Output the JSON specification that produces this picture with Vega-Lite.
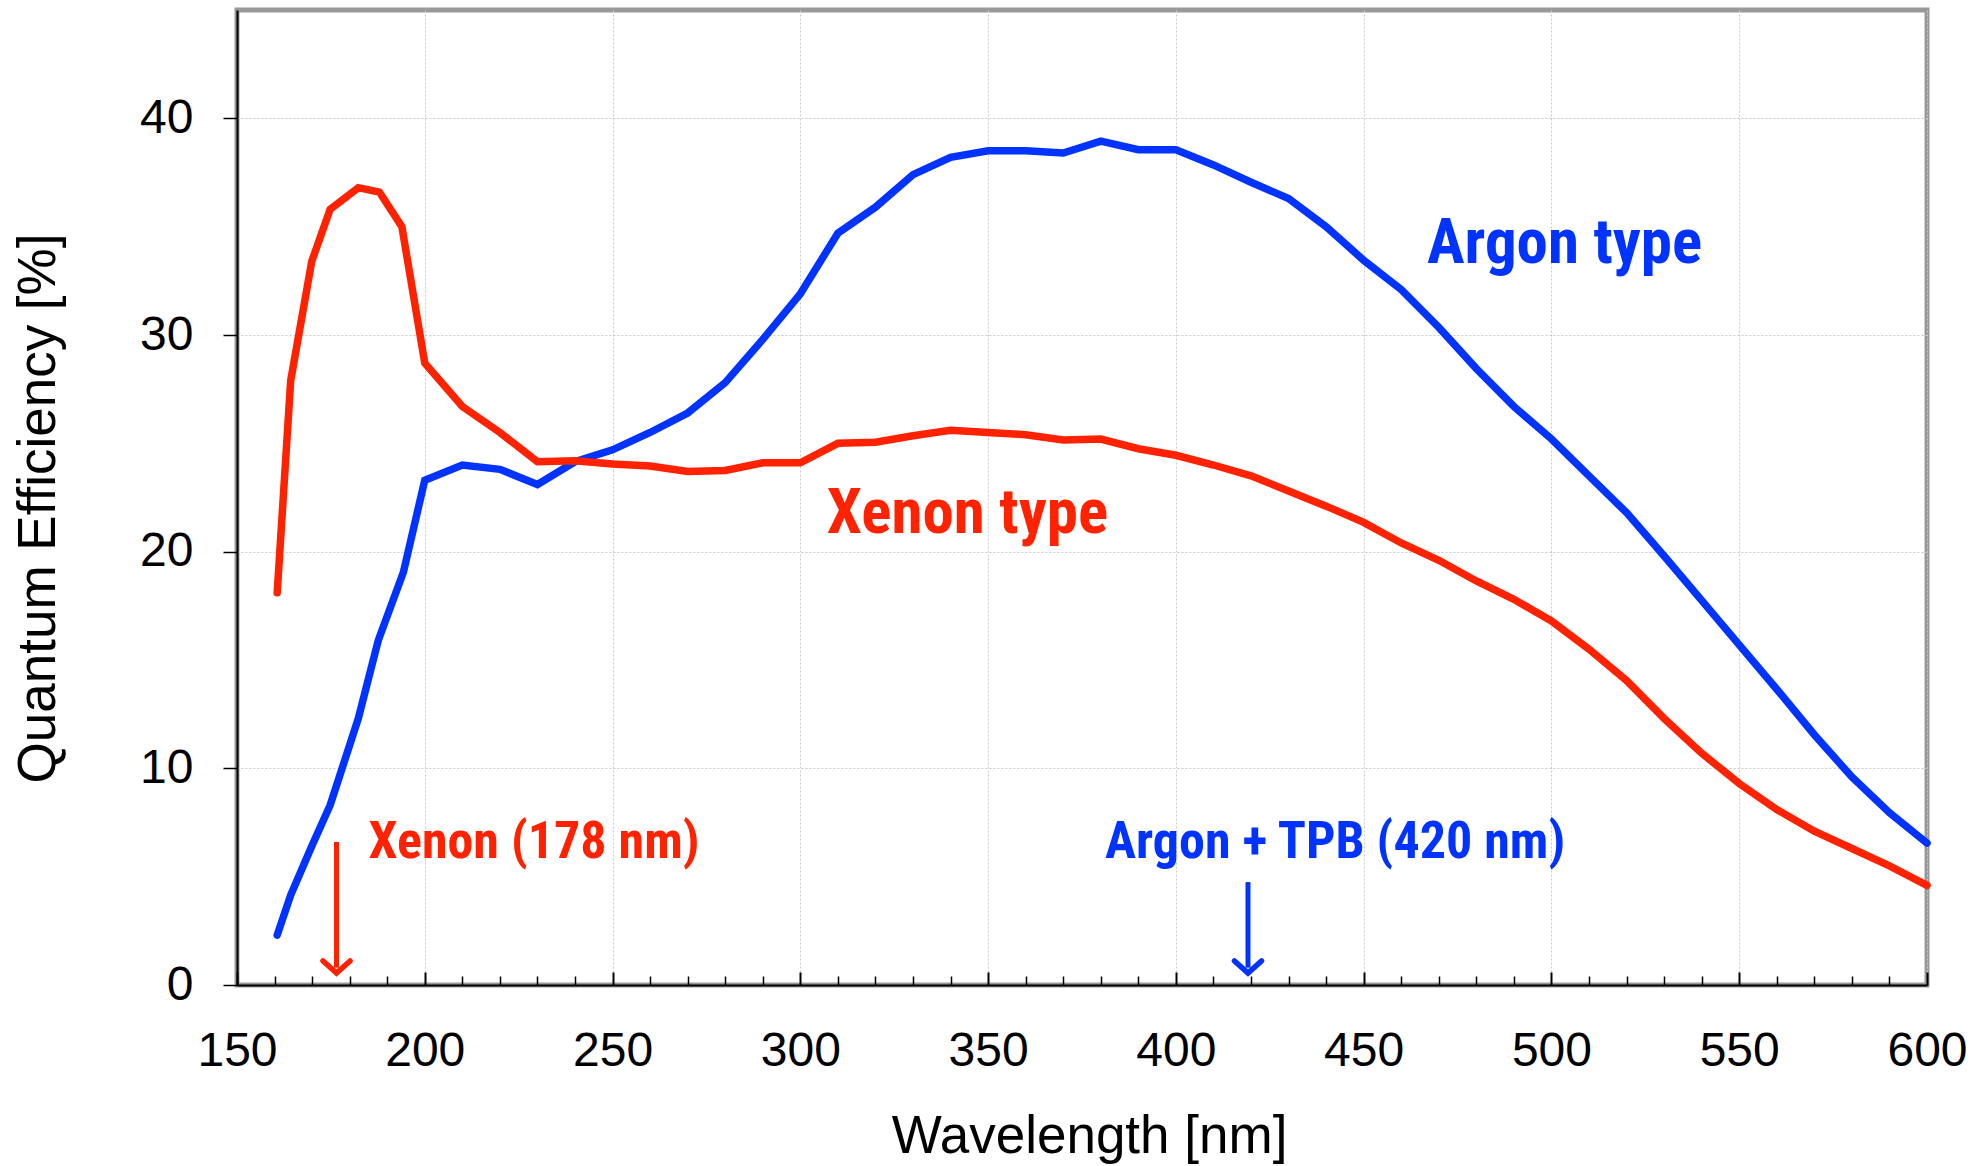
{
  "$schema": "https://vega.github.io/schema/vega-lite/v6.json",
  "width": 1690,
  "height": 975,
  "autosize": {"type": "none"},
  "padding": {"left": 237, "top": 10, "right": 48, "bottom": 181},
  "background": "white",
  "config": {
    "view": {"stroke": "#999999", "strokeWidth": 5},
    "font": "Liberation Sans"
  },
  "datasets": {
    "qe": [
      {"nm": 160.7, "qe": 2.3, "s": "Argon"},
      {"nm": 164.3, "qe": 4.15, "s": "Argon"},
      {"nm": 169.9, "qe": 6.4, "s": "Argon"},
      {"nm": 174.8, "qe": 8.3, "s": "Argon"},
      {"nm": 182.3, "qe": 12.3, "s": "Argon"},
      {"nm": 187.6, "qe": 15.9, "s": "Argon"},
      {"nm": 194.3, "qe": 19.05, "s": "Argon"},
      {"nm": 200, "qe": 23.3, "s": "Argon"},
      {"nm": 210, "qe": 24.0, "s": "Argon"},
      {"nm": 220, "qe": 23.8, "s": "Argon"},
      {"nm": 230, "qe": 23.1, "s": "Argon"},
      {"nm": 240, "qe": 24.15, "s": "Argon"},
      {"nm": 250, "qe": 24.7, "s": "Argon"},
      {"nm": 260, "qe": 25.5, "s": "Argon"},
      {"nm": 270, "qe": 26.4, "s": "Argon"},
      {"nm": 280, "qe": 27.8, "s": "Argon"},
      {"nm": 290, "qe": 29.8, "s": "Argon"},
      {"nm": 300, "qe": 31.9, "s": "Argon"},
      {"nm": 310, "qe": 34.7, "s": "Argon"},
      {"nm": 320, "qe": 35.9, "s": "Argon"},
      {"nm": 330, "qe": 37.4, "s": "Argon"},
      {"nm": 340, "qe": 38.2, "s": "Argon"},
      {"nm": 350, "qe": 38.5, "s": "Argon"},
      {"nm": 360, "qe": 38.5, "s": "Argon"},
      {"nm": 370, "qe": 38.4, "s": "Argon"},
      {"nm": 380, "qe": 38.95, "s": "Argon"},
      {"nm": 390, "qe": 38.55, "s": "Argon"},
      {"nm": 400, "qe": 38.55, "s": "Argon"},
      {"nm": 410, "qe": 37.85, "s": "Argon"},
      {"nm": 420, "qe": 37.05, "s": "Argon"},
      {"nm": 430, "qe": 36.3, "s": "Argon"},
      {"nm": 440, "qe": 35.0, "s": "Argon"},
      {"nm": 450, "qe": 33.45, "s": "Argon"},
      {"nm": 460, "qe": 32.1, "s": "Argon"},
      {"nm": 470, "qe": 30.35, "s": "Argon"},
      {"nm": 480, "qe": 28.45, "s": "Argon"},
      {"nm": 490, "qe": 26.7, "s": "Argon"},
      {"nm": 500, "qe": 25.2, "s": "Argon"},
      {"nm": 510, "qe": 23.5, "s": "Argon"},
      {"nm": 520, "qe": 21.8, "s": "Argon"},
      {"nm": 530, "qe": 19.8, "s": "Argon"},
      {"nm": 540, "qe": 17.75, "s": "Argon"},
      {"nm": 550, "qe": 15.7, "s": "Argon"},
      {"nm": 560, "qe": 13.65, "s": "Argon"},
      {"nm": 570, "qe": 11.55, "s": "Argon"},
      {"nm": 580, "qe": 9.6, "s": "Argon"},
      {"nm": 590, "qe": 7.95, "s": "Argon"},
      {"nm": 600, "qe": 6.55, "s": "Argon"},
      {"nm": 160.7, "qe": 18.1, "s": "Xenon"},
      {"nm": 164.3, "qe": 27.9, "s": "Xenon"},
      {"nm": 169.9, "qe": 33.4, "s": "Xenon"},
      {"nm": 174.8, "qe": 35.8, "s": "Xenon"},
      {"nm": 182.3, "qe": 36.8, "s": "Xenon"},
      {"nm": 187.9, "qe": 36.6, "s": "Xenon"},
      {"nm": 193.9, "qe": 35.0, "s": "Xenon"},
      {"nm": 200, "qe": 28.7, "s": "Xenon"},
      {"nm": 210, "qe": 26.7, "s": "Xenon"},
      {"nm": 220, "qe": 25.5, "s": "Xenon"},
      {"nm": 230, "qe": 24.15, "s": "Xenon"},
      {"nm": 240, "qe": 24.2, "s": "Xenon"},
      {"nm": 250, "qe": 24.05, "s": "Xenon"},
      {"nm": 260, "qe": 23.95, "s": "Xenon"},
      {"nm": 270, "qe": 23.7, "s": "Xenon"},
      {"nm": 280, "qe": 23.75, "s": "Xenon"},
      {"nm": 290, "qe": 24.1, "s": "Xenon"},
      {"nm": 300, "qe": 24.1, "s": "Xenon"},
      {"nm": 310, "qe": 25.0, "s": "Xenon"},
      {"nm": 320, "qe": 25.05, "s": "Xenon"},
      {"nm": 330, "qe": 25.35, "s": "Xenon"},
      {"nm": 340, "qe": 25.6, "s": "Xenon"},
      {"nm": 350, "qe": 25.5, "s": "Xenon"},
      {"nm": 360, "qe": 25.4, "s": "Xenon"},
      {"nm": 370, "qe": 25.15, "s": "Xenon"},
      {"nm": 380, "qe": 25.2, "s": "Xenon"},
      {"nm": 390, "qe": 24.75, "s": "Xenon"},
      {"nm": 400, "qe": 24.45, "s": "Xenon"},
      {"nm": 410, "qe": 24.0, "s": "Xenon"},
      {"nm": 420, "qe": 23.5, "s": "Xenon"},
      {"nm": 430, "qe": 22.8, "s": "Xenon"},
      {"nm": 440, "qe": 22.1, "s": "Xenon"},
      {"nm": 450, "qe": 21.35, "s": "Xenon"},
      {"nm": 460, "qe": 20.4, "s": "Xenon"},
      {"nm": 470, "qe": 19.6, "s": "Xenon"},
      {"nm": 480, "qe": 18.65, "s": "Xenon"},
      {"nm": 490, "qe": 17.8, "s": "Xenon"},
      {"nm": 500, "qe": 16.8, "s": "Xenon"},
      {"nm": 510, "qe": 15.5, "s": "Xenon"},
      {"nm": 520, "qe": 14.05, "s": "Xenon"},
      {"nm": 530, "qe": 12.3, "s": "Xenon"},
      {"nm": 540, "qe": 10.7, "s": "Xenon"},
      {"nm": 550, "qe": 9.3, "s": "Xenon"},
      {"nm": 560, "qe": 8.1, "s": "Xenon"},
      {"nm": 570, "qe": 7.1, "s": "Xenon"},
      {"nm": 580, "qe": 6.3, "s": "Xenon"},
      {"nm": 590, "qe": 5.5, "s": "Xenon"},
      {"nm": 600, "qe": 4.6, "s": "Xenon"}
    ],
    "arrows": [
      {"nm": 176.5, "qe": 6.6, "qe2": 0.8, "s": "Xenon"},
      {"nm": 419.2, "qe": 4.75, "qe2": 0.8, "s": "Argon"}
    ],
    "heads": [
      {"nm": 176.5, "qe": 0.55, "s": "Xenon"},
      {"nm": 419.2, "qe": 0.55, "s": "Argon"}
    ],
    "types": [
      {"nm": 503.5, "qe": 34.2, "label": "Argon type", "s": "Argon"},
      {"nm": 344.5, "qe": 21.75, "label": "Xenon type", "s": "Xenon"}
    ],
    "marks": [
      {"nm": 229.1, "qe": 6.6, "label": "Xenon (178 nm)", "s": "Xenon"},
      {"nm": 442.4, "qe": 6.6, "label": "Argon + TPB (420 nm)", "s": "Argon"}
    ]
  },
  "resolve": {"axis": {"x": "independent"}},
  "layer": [
    {
      "data": {"name": "qe"},
      "mark": {"type": "line", "strokeWidth": 7.5, "strokeCap": "round"},
      "encoding": {
        "x": {
          "field": "nm", "type": "quantitative",
          "scale": {"domain": [150, 600], "nice": false, "zero": false},
          "axis": {
            "orient": "bottom",
            "values": [150, 200, 250, 300, 350, 400, 450, 500, 550, 600],
            "format": "d",
            "grid": true, "gridColor": "#c8c8c8", "gridDash": [2, 2], "gridWidth": 1,
            "domain": true, "domainColor": "#000000", "domainWidth": 2,
            "ticks": true, "tickSize": -13, "tickColor": "#000000", "tickWidth": 2,
            "labelFont": "Liberation Sans", "labelFontSize": 48, "labelColor": "#000000",
            "labelPadding": 55, "labelFlush": false, "labelOverlap": false,
            "title": "Wavelength [nm]",
            "titleFont": "Liberation Sans", "titleFontSize": 53, "titleFontWeight": "normal",
            "titleColor": "#000000",
            "titleX": 852, "titleY": 167, "titleBaseline": "alphabetic", "titleAlign": "center"
          }
        },
        "y": {
          "field": "qe", "type": "quantitative",
          "scale": {"domain": [0, 45], "nice": false},
          "axis": {
            "values": [0, 10, 20, 30, 40],
            "grid": true, "gridColor": "#c8c8c8", "gridDash": [2, 2], "gridWidth": 1,
            "domain": true, "domainColor": "#000000", "domainWidth": 2,
            "ticks": true, "tickSize": 14, "tickColor": "#000000", "tickWidth": 1.5,
            "labelFont": "Liberation Sans", "labelFontSize": 48, "labelColor": "#000000",
            "labelPadding": 30, "labelFlush": false,
            "title": "Quantum Efficiency [%]",
            "titleFont": "Liberation Sans", "titleFontSize": 53, "titleFontWeight": "normal",
            "titleColor": "#000000",
            "titleAngle": -90, "titleX": -199, "titleY": 498,
            "titleBaseline": "middle", "titleAlign": "center"
          }
        },
        "color": {
          "field": "s", "type": "nominal",
          "scale": {"domain": ["Argon", "Xenon"], "range": ["#0033ff", "#ff2200"]},
          "legend": null
        }
      }
    },
    {
      "data": {"name": "arrows"},
      "mark": {"type": "rule", "strokeWidth": 5},
      "encoding": {
        "x": {
          "field": "nm", "type": "quantitative",
          "scale": {"domain": [150, 600], "nice": false, "zero": false},
          "axis": {
            "orient": "bottom",
            "values": [160, 170, 180, 190, 210, 220, 230, 240, 260, 270, 280, 290, 310, 320, 330, 340, 360, 370, 380, 390, 410, 420, 430, 440, 460, 470, 480, 490, 510, 520, 530, 540, 560, 570, 580, 590],
            "grid": false, "domain": false, "labels": false,
            "ticks": true, "tickSize": -9, "tickColor": "#000000", "tickWidth": 1.5,
            "title": null
          }
        },
        "y": {"field": "qe", "type": "quantitative"},
        "y2": {"field": "qe2"},
        "color": {"field": "s", "type": "nominal", "legend": null}
      }
    },
    {
      "data": {"name": "heads"},
      "mark": {"type": "point", "shape": "M-1,-0.9L0,0L1,-0.9", "size": 729, "filled": false, "strokeWidth": 5.5, "opacity": 1, "strokeJoin": "miter", "strokeCap": "round"},
      "encoding": {
        "x": {"field": "nm", "type": "quantitative", "axis": null},
        "y": {"field": "qe", "type": "quantitative"},
        "color": {"field": "s", "type": "nominal", "legend": null}
      }
    },
    {
      "data": {"name": "types"},
      "mark": {"type": "text", "font": "Noto Sans Condensed, Roboto Condensed, Arial Narrow, Roboto", "fontWeight": "bold", "fontSize": 63, "align": "center", "baseline": "middle"},
      "encoding": {
        "x": {"field": "nm", "type": "quantitative", "axis": null},
        "y": {"field": "qe", "type": "quantitative"},
        "text": {"field": "label"},
        "color": {
          "field": "s", "type": "nominal",
          "scale": {"domain": ["Argon", "Xenon"], "range": ["#0000ff", "#ff0000"]},
          "legend": null
        }
      }
    },
    {
      "data": {"name": "marks"},
      "mark": {"type": "text", "font": "Noto Sans Condensed, Roboto Condensed, Arial Narrow, Roboto", "fontWeight": "bold", "fontSize": 52, "align": "center", "baseline": "middle"},
      "encoding": {
        "x": {"field": "nm", "type": "quantitative", "axis": null},
        "y": {"field": "qe", "type": "quantitative"},
        "text": {"field": "label"},
        "color": {"field": "s", "type": "nominal", "legend": null}
      }
    }
  ]
}
